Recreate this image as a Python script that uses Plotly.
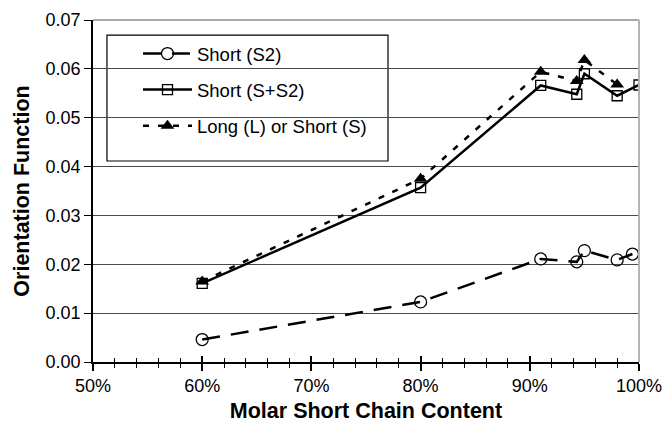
import plotly.graph_objects as go

# Orientation function vs molar short-chain content
x_s2 = [60, 80, 91, 94.3, 95, 98, 99.4]
s2 = [0.0046, 0.0123, 0.0211, 0.0205, 0.0228, 0.0209, 0.0221]

x_ss2 = [60, 80, 91, 94.3, 95, 98, 100]
ss2 = [0.0161, 0.0357, 0.0566, 0.0548, 0.0590, 0.0545, 0.0567]

x_ls = [60, 80, 91, 94.3, 95, 98]
ls = [0.0165, 0.0375, 0.0594, 0.0575, 0.0618, 0.0568]

names = ["Short (S2)", "Short (S+S2)", "Long (L) or Short (S)"]

FONT = "Liberation Sans, Arial, sans-serif"

fig = go.Figure()
fig.add_trace(go.Scatter(
    x=x_s2, y=s2, name=names[0], legendgroup="a", mode="lines+markers",
    line=dict(color="black", width=2.5, dash="18px,11px"),
    marker=dict(symbol="circle-open", size=12, color="black", line=dict(width=1.3)),
))
fig.add_trace(go.Scatter(
    x=x_ss2, y=ss2, name=names[1], legendgroup="b", mode="lines+markers",
    line=dict(color="black", width=2.5),
    marker=dict(symbol="square-open", size=10, color="black", line=dict(width=1.3)),
))
fig.add_trace(go.Scatter(
    x=x_ls, y=ls, name=names[2], legendgroup="c", mode="lines+markers",
    line=dict(color="black", width=2.5, dash="6px,9px"),
    marker=dict(symbol="triangle-up", size=12, color="black"),
))
# invisible trace on an overlay axis so that x ticks also extend inside
fig.add_trace(go.Scatter(x=[50, 100], y=[0, 0], xaxis="x2", mode="markers",
                         marker=dict(opacity=0), showlegend=False, hoverinfo="skip"))

fig.update_layout(
    width=665, height=423,
    margin=dict(l=93, r=26, t=20, b=61),
    plot_bgcolor="white", paper_bgcolor="white",
    font=dict(family=FONT, size=18, color="black"),
    showlegend=True,
    legend=dict(
        x=0.0824, y=0.956, xanchor="left", yanchor="top",
        bgcolor="rgba(0,0,0,0)", borderwidth=0,
        font=dict(size=18.5, family=FONT),
        traceorder="grouped", tracegroupgap=9,
        itemwidth=49,
    ),
    xaxis=dict(
        range=[50, 100], dtick=10, tick0=50, ticksuffix="%", automargin=False,
        showgrid=False, zeroline=False,
        showline=True, linecolor="black", linewidth=1.5,
        ticks="outside", ticklen=7, tickwidth=1.5, tickcolor="black",
        minor=dict(dtick=2, ticks="outside", ticklen=4, tickwidth=1.2, tickcolor="black"),
        tickfont=dict(size=18),
        title=dict(text="<b>Molar Short Chain Content</b>", font=dict(size=21.5), standoff=10),
    ),
    xaxis2=dict(
        range=[50, 100], dtick=10, tick0=50, overlaying="x", matches="x", automargin=False,
        showticklabels=False, showgrid=False, zeroline=False, showline=False,
        ticks="inside", ticklen=6, tickwidth=1.5, tickcolor="black",
        minor=dict(dtick=2, ticks="inside", ticklen=4, tickwidth=1.2, tickcolor="black"),
    ),
    yaxis=dict(
        range=[0, 0.07], dtick=0.01, tickformat=".2f", automargin=False,
        showgrid=True, gridcolor="#4a4a4a", gridwidth=1.3,
        zeroline=False, showline=True, linecolor="black", linewidth=1.5,
        ticks="outside", ticklen=7, tickwidth=1.3, tickcolor="black",
        tickfont=dict(size=18),
        title=dict(text="<b>Orientation Function</b>", font=dict(size=21.5), standoff=10),
    ),
    shapes=[
        # legend frame, drawn over the gridlines but under the traces
        dict(type="rect", xref="paper", yref="paper", layer="between",
             x0=0.0256, x1=0.5403, y0=0.5877, y1=0.956,
             fillcolor="white", line=dict(color="black", width=1.2)),
        dict(type="line", xref="paper", yref="paper", x0=0, x1=1, y0=1, y1=1,
             line=dict(color="#8c8c8c", width=1.5)),
        dict(type="line", xref="paper", yref="paper", x0=1, x1=1, y0=0, y1=1,
             line=dict(color="#b4b4b4", width=2)),
    ],
)

fig.write_html("out.html")
